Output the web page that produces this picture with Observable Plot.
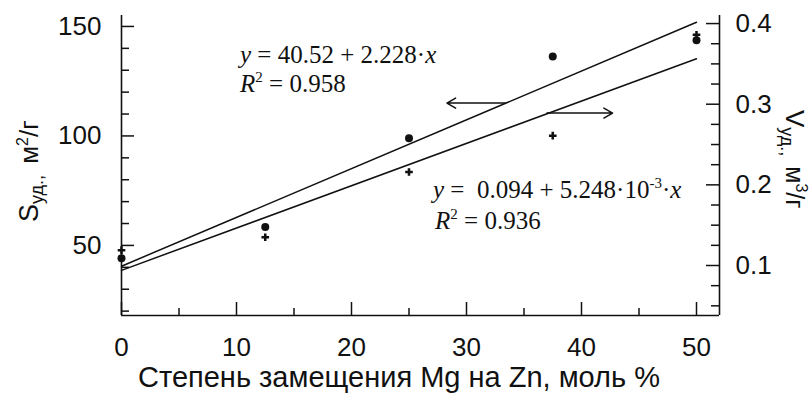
<!DOCTYPE html>
<html><head><meta charset="utf-8">
<script src="https://cdn.jsdelivr.net/npm/d3@7"></script>
<script src="https://cdn.jsdelivr.net/npm/@observablehq/plot@0.6"></script>
<style>
body{margin:0;background:#fff}
#chart{position:relative;width:811px;height:394px}
#chart svg{position:absolute;left:0;top:0}
</style>
</head><body><div id="chart"></div>
<script>
// ---- data ----
const xValues = [0, 12.5, 25, 37.5, 50];
const sValues = [44.1, 58.4, 98.9, 136.3, 143.7];      // S уд., м²/г (dots, left axis)
const vValues = [0.119, 0.135, 0.216, 0.261, 0.386];   // V уд., м³/г (crosses, right axis)
const fitX = [0, 50];
const fitS = [40.52, 151.92];   // y = 40.52 + 2.228·x
const fitV = [0.094, 0.3564];   // y = 0.094 + 5.248·10⁻³·x
const xTicks = [0, 10, 20, 30, 40, 50];
const xMinor = [5, 15, 25, 35, 45];
const sTicks = [50, 100, 150];
const sMinor = [20, 30, 40, 60, 70, 80, 90, 110, 120, 130, 140];
const vTicks = [0.1, 0.2, 0.3, 0.4];
const vMinor = [0.05, 0.075, 0.125, 0.15, 0.175, 0.225, 0.25, 0.275, 0.325, 0.35, 0.375];
const arrowS = [{x1: 33.4, y1: 115, x2: 28.3, y2: 115}];
const arrowV = [{x1: 37.0, y1: 0.289, x2: 42.7, y2: 0.289}];
const xTitle = "Степень замещения Mg на Zn, моль %";

const points = xValues.map((x, i) => ({x, s: sValues[i], v: vValues[i]}));
const fit = fitX.map((x, i) => ({x, s: fitS[i], v: fitV[i]}));

const W = 811, H = 394;
const M = {marginLeft: 121, marginRight: 92, marginTop: 15, marginBottom: 79};
const FW = W - M.marginLeft - M.marginRight;   // frame width
const FH = H - M.marginTop - M.marginBottom;   // frame height
const INK = "#111";
const font = {fontFamily: "'Liberation Sans', Arial, sans-serif", fontSize: "26px", color: INK};
const tickStyle = {stroke: INK, strokeWidth: 1.5};

// inward ticks: tick marks inset so only a short stub remains at the axis
const ticksBottom = (t, len) => Plot.tickX(t, {x: d => d, insetTop: FH - len, ...tickStyle});
const ticksLeft = (t, len) => Plot.tickY(t, {y: d => d, insetRight: FW - len, ...tickStyle});
const ticksRight = (t, len) => Plot.tickY(t, {y: d => d, insetLeft: FW - len, ...tickStyle});
const textX = (t) => Plot.axisX(t, {tickSize: 0, tickPadding: 22, fill: INK, stroke: "none", label: null});
const textY = (t, anchor, pad, fmt) => Plot.axisY(t, {anchor, tickSize: 0, tickPadding: pad, fill: INK, stroke: "none", label: null, ...(fmt ? {tickFormat: fmt} : {})});

const p1 = Plot.plot({
  width: W, height: H, ...M,
  style: {...font, background: "white"},
  x: {domain: [0, 52]},
  y: {domain: [18, 155]},
  marks: [
    Plot.ruleX([0], {stroke: INK, strokeWidth: 1.6}),
    Plot.ruleY([18], {stroke: INK, strokeWidth: 1.6}),
    ticksBottom(xTicks, 13),
    ticksBottom(xMinor, 7),
    textX(xTicks),
    ticksLeft(sTicks, 13),
    ticksLeft(sMinor, 8),
    textY(sTicks, "left", 20),
    Plot.line(fit, {x: "x", y: "s", stroke: INK, strokeWidth: 1.5}),
    Plot.dot(points, {x: "x", y: "s", r: 4, fill: INK, stroke: "none"}),
    Plot.arrow(arrowS, {x1: "x1", y1: "y1", x2: "x2", y2: "y2", stroke: INK, strokeWidth: 1.5, headLength: 10, headAngle: 60, inset: 0})
  ]
});

const p2 = Plot.plot({
  width: W, height: H, ...M,
  style: {...font, background: "transparent"},
  x: {domain: [0, 52], axis: null},
  y: {domain: [0.038, 0.41]},
  marks: [
    Plot.ruleX([52], {stroke: INK, strokeWidth: 1.6}),
    ticksRight(vTicks, 13),
    ticksRight(vMinor, 8),
    textY(vTicks, "right", 16, d => d.toFixed(1)),
    Plot.line(fit, {x: "x", y: "v", stroke: INK, strokeWidth: 1.5}),
    Plot.dot(points, {x: "x", y: "v", r: 3.2, symbol: "cross", fill: INK, stroke: "none"}),
    Plot.arrow(arrowV, {x1: "x1", y1: "y1", x2: "x2", y2: "y2", stroke: INK, strokeWidth: 1.5, headLength: 10, headAngle: 60, inset: 0})
  ]
});

const chart = document.getElementById("chart");
chart.append(p1, p2);

// ---- annotations and axis titles (rich text) ----
const svg = d3.select(p2);
const serif = "'Liberation Serif', 'Times New Roman', serif";
const sans = "'Liberation Sans', Arial, sans-serif";

function richText(parts, x, y, family, size, transform, anchor = "start") {
  const t = svg.append("text")
    .attr("font-family", family).attr("font-size", size).attr("fill", INK)
    .attr("text-anchor", anchor)
    .style("white-space", "pre");
  if (transform) t.attr("transform", transform); else t.attr("x", x).attr("y", y);
  parts.forEach(p => {
    const ts = t.append("tspan").text(p.t);
    if (p.i) ts.attr("font-style", "italic");
    if (p.s) ts.attr("font-size", p.s);
    if (p.dy) ts.attr("dy", p.dy);
    if (p.dx) ts.attr("dx", p.dx);
  });
  return t;
}

richText([{t: "y", i: 1}, {t: " = 40.52 + 2.228·"}, {t: "x", i: 1}], 240, 63, serif, 25);
richText([{t: "R", i: 1}, {t: "2", s: 15, dy: -10}, {t: " = 0.958", dy: 10}], 240, 92, serif, 25);
richText([{t: "y", i: 1}, {t: " =  0.094 + 5.248·10"}, {t: "-3", s: 15, dy: -10}, {t: "·", dy: 10}, {t: "x", i: 1}], 433, 198, serif, 25);
richText([{t: "R", i: 1}, {t: "2", s: 15, dy: -10}, {t: " = 0.936", dy: 10}], 435, 229, serif, 25);

richText([{t: xTitle}], 399, 387, sans, 29, null, "middle");

richText([{t: "S", s: 27}, {t: "уд.,", s: 18, dy: 5}, {t: " м", dx: 4, dy: -5}, {t: "2", s: 16, dy: -10}, {t: "/г", dy: 10}],
  0, 0, sans, 26, "translate(38,222) rotate(-90)");
richText([{t: "V", s: 26}, {t: "уд.,", s: 18, dy: 5}, {t: " м", dx: 3, dy: -5}, {t: "3", s: 16, dy: -10}, {t: "/г", dy: 10}],
  0, 0, sans, 25, "translate(786,110) rotate(90)");
</script>
</body></html>
